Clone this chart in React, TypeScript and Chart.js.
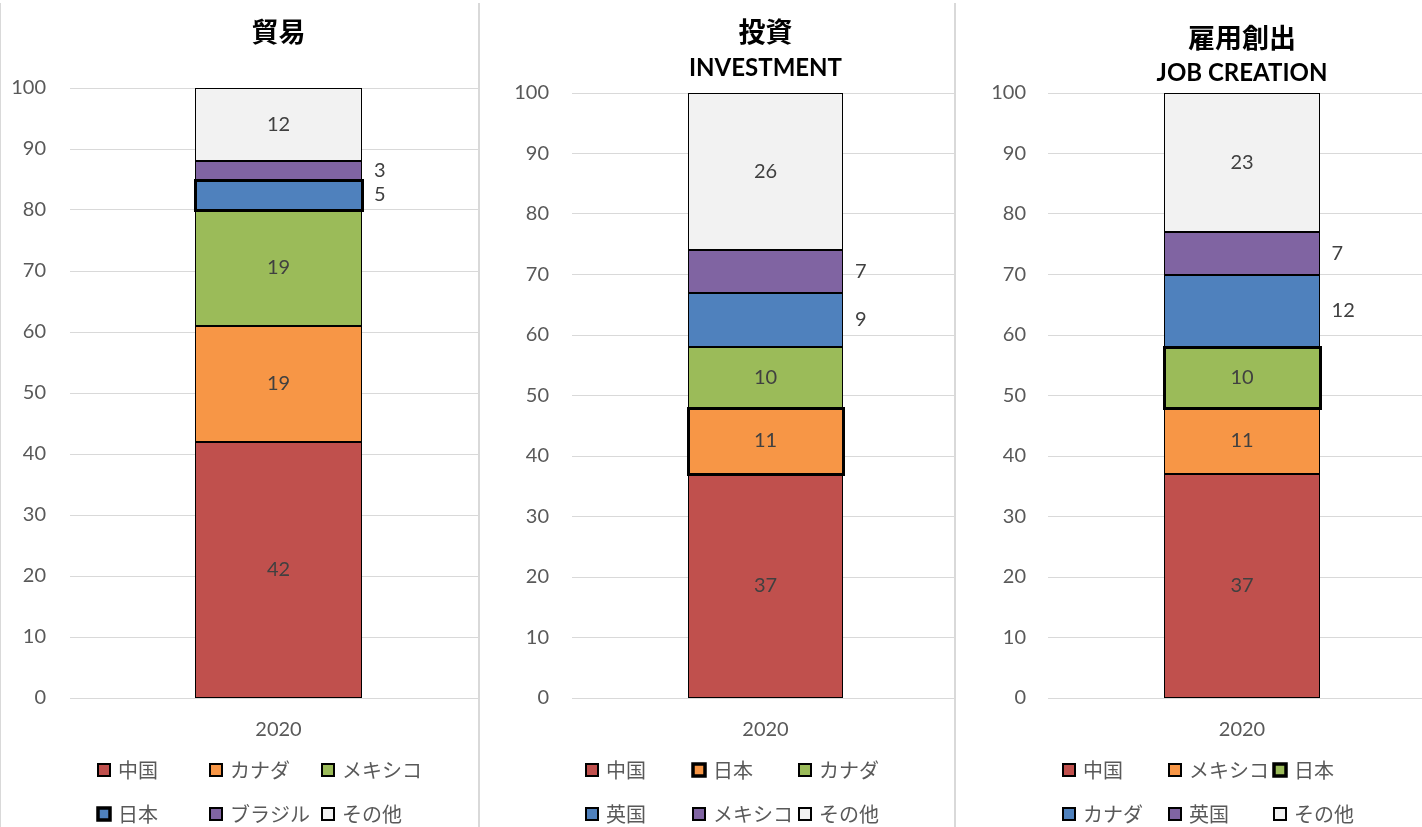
import React, { useEffect, useRef } from "react";
import { Chart, registerables } from "chart.js";

Chart.register(...registerables);

// ---------- data ----------
const CATEGORIES = ["2020"];

const TRADE_LABELS = ["中国", "カナダ", "メキシコ", "日本", "ブラジル", "その他"];
const TRADE_VALUES = [42, 19, 19, 5, 3, 12];

const INVEST_LABELS = ["中国", "日本", "カナダ", "英国", "メキシコ", "その他"];
const INVEST_VALUES = [37, 11, 10, 9, 7, 26];

const JOB_LABELS = ["中国", "メキシコ", "日本", "カナダ", "英国", "その他"];
const JOB_VALUES = [37, 11, 10, 12, 7, 23];

const Y_MIN = 0;
const Y_MAX = 100;
const Y_STEP = 10;

// ---------- style ----------
const SERIES_COLORS = ["#C0504D", "#F79646", "#9BBB59", "#4F81BD", "#8064A2", "#F2F2F2"];
const HIGHLIGHT = "日本";
const OUTSIDE_INDEXES = [3, 4];
const H = 827;
const CJK = '"Noto Sans CJK JP", "Noto Sans", sans-serif';
const LATIN = 'Lato, "Noto Sans", sans-serif';
const GRAY = "#595959";
const LABEL_GRAY = "#404040";

type PanelCfg = {
  title: string;
  subtitle?: string;
  labels: string[];
  values: number[];
  left: number;
  width: number;
  canvasWidth: number;
  axisWidth: number;
  tickPad: number;
  top: number;
  bottom: number;
  titleY: number;
  subY?: number;
  legendX: number;
  legendDx: number;
};

const PANELS: PanelCfg[] = [
  {
    title: "貿易",
    labels: TRADE_LABELS,
    values: TRADE_VALUES,
    left: 0,
    width: 479,
    canvasWidth: 487,
    axisWidth: 70,
    tickPad: 24,
    top: 88,
    bottom: 698,
    titleY: 32,
    legendX: 97,
    legendDx: 112,
  },
  {
    title: "投資",
    subtitle: "INVESTMENT",
    labels: INVEST_LABELS,
    values: INVEST_VALUES,
    left: 479,
    width: 476,
    canvasWidth: 480,
    axisWidth: 93,
    tickPad: 23,
    top: 93,
    bottom: 698,
    titleY: 32,
    subY: 68,
    legendX: 106,
    legendDx: 106.5,
  },
  {
    title: "雇用創出",
    subtitle: "JOB CREATION",
    labels: JOB_LABELS,
    values: JOB_VALUES,
    left: 955,
    width: 467,
    canvasWidth: 481,
    axisWidth: 93,
    tickPad: 22,
    top: 93,
    bottom: 698,
    titleY: 38,
    subY: 73,
    legendX: 107,
    legendDx: 105.5,
  },
];

function makePlugin(cfg: PanelCfg) {
  return {
    id: "panelDecor",
    afterDatasetsDraw(chart: any) {
      const ctx: CanvasRenderingContext2D = chart.ctx;
      const rects: { l: number; r: number; t: number; b: number; hl: boolean; i: number; v: number; cx: number; cy: number }[] = [];
      chart.data.datasets.forEach((ds: any, i: number) => {
        const meta = chart.getDatasetMeta(i);
        meta.data.forEach((el: any, j: number) => {
          const p = el.getProps(["x", "y", "base", "width"], true);
          rects.push({
            l: p.x - p.width / 2,
            r: p.x + p.width / 2,
            t: Math.min(p.y, p.base),
            b: Math.max(p.y, p.base),
            hl: cfg.labels[i] === HIGHLIGHT,
            i,
            v: ds.data[j],
            cx: p.x,
            cy: (p.y + p.base) / 2,
          });
        });
      });
      ctx.save();
      ctx.strokeStyle = "#000";
      ctx.lineWidth = 1;
      rects.filter((r) => !r.hl).forEach((r) => {
        const l = Math.round(r.l) + 0.5;
        const rr = Math.round(r.r) - 0.5;
        const t = Math.round(r.t) + 0.5;
        const b = Math.round(r.b) - 0.5;
        ctx.strokeRect(l, t, rr - l, b - t);
      });
      ctx.lineWidth = 3;
      rects.filter((r) => r.hl).forEach((r) => {
        const l = Math.round(r.l) + 0.5;
        const rr = Math.round(r.r) + 0.5;
        const t = Math.round(r.t) + 0.5;
        const b = Math.round(r.b) + 0.5;
        ctx.strokeRect(l, t, rr - l, b - t);
      });
      ctx.font = `20px ${LATIN}`;
      ctx.fillStyle = LABEL_GRAY;
      ctx.textBaseline = "middle";
      rects.forEach((r) => {
        if (OUTSIDE_INDEXES.includes(r.i)) {
          ctx.textAlign = "left";
          ctx.fillText(String(r.v), r.r + 12, r.cy);
        } else {
          ctx.textAlign = "center";
          ctx.fillText(String(r.v), r.cx, r.cy);
        }
      });
      ctx.restore();
    },
    afterDraw(chart: any) {
      const ctx: CanvasRenderingContext2D = chart.ctx;
      const area = chart.chartArea;
      const cx = (area.left + area.right) / 2;
      ctx.save();
      ctx.fillStyle = "#000";
      ctx.textAlign = "center";
      ctx.textBaseline = "middle";
      ctx.font = `bold 27px ${CJK}`;
      ctx.fillText(cfg.title, cx, cfg.titleY);
      if (cfg.subtitle && cfg.subY) {
        ctx.font = `bold 24px ${LATIN}`;
        ctx.fillText(cfg.subtitle, cx, cfg.subY);
      }
      const rows = [770, 814];
      ctx.font = `20px ${CJK}`;
      ctx.textAlign = "left";
      cfg.labels.forEach((lab, i) => {
        const col = i % 3;
        const row = Math.floor(i / 3);
        const x = Math.round(cfg.legendX + col * cfg.legendDx);
        const y = rows[row];
        const hl = lab === HIGHLIGHT;
        ctx.fillStyle = SERIES_COLORS[i];
        ctx.fillRect(x + 1, y - 6, 12, 12);
        ctx.strokeStyle = "#000";
        ctx.lineWidth = hl ? 3.5 : 2;
        ctx.strokeRect(x + 1, y - 6, 12, 12);
        ctx.fillStyle = GRAY;
        ctx.fillText(lab, x + 21, y);
      });
      ctx.restore();
    },
  };
}

function Panel({ cfg }: { cfg: PanelCfg }) {
  const ref = useRef<HTMLCanvasElement | null>(null);
  useEffect(() => {
    if (!ref.current) return;
    const chart = new Chart(ref.current, {
      type: "bar",
      data: {
        labels: CATEGORIES,
        datasets: cfg.labels.map((lab, i) => ({
          label: lab,
          data: [cfg.values[i]],
          backgroundColor: SERIES_COLORS[i],
          borderWidth: 0,
          barPercentage: 0.4,
          categoryPercentage: 1,
        })),
      },
      options: {
        responsive: false,
        animation: false,
        devicePixelRatio: 1,
        layout: { padding: { top: cfg.top, left: 0, right: 0, bottom: 0 } },
        plugins: {
          legend: { display: false },
          title: { display: false },
          tooltip: { enabled: false },
        },
        scales: {
          x: {
            stacked: true,
            grid: { display: false },
            border: { display: false },
            ticks: { color: GRAY, font: { family: LATIN, size: 20 }, padding: 12 },
            afterFit: (s: any) => {
              s.height = H - cfg.bottom;
            },
          },
          y: {
            stacked: true,
            min: Y_MIN,
            max: Y_MAX,
            grid: { color: "#D9D9D9", lineWidth: 1, drawTicks: false },
            border: { display: false },
            ticks: {
              stepSize: Y_STEP,
              color: GRAY,
              font: { family: LATIN, size: 20 },
              padding: cfg.tickPad,
            },
            afterFit: (s: any) => {
              s.width = cfg.axisWidth;
            },
          },
        },
      } as any,
      plugins: [makePlugin(cfg)],
    });
    return () => chart.destroy();
  }, [cfg]);
  return (
    <div
      style={{
        position: "absolute",
        left: cfg.left,
        top: 0,
        width: cfg.width,
        height: H,
        overflow: "hidden",
      }}
    >
      <canvas ref={ref} width={cfg.canvasWidth} height={H} style={{ display: "block" }} />
    </div>
  );
}

export default function App() {
  return (
    <div
      style={{
        position: "fixed",
        left: 0,
        top: 0,
        width: 1422,
        height: H,
        background: "#fff",
        overflow: "hidden",
      }}
    >
      {PANELS.map((p, i) => (
        <Panel key={i} cfg={p} />
      ))}
      <div style={{ position: "absolute", left: 0, top: 3, width: 1, height: H, background: "#D9D9D9" }} />
      <div style={{ position: "absolute", left: 478, top: 3, width: 2, height: H, background: "#D9D9D9" }} />
      <div style={{ position: "absolute", left: 954, top: 3, width: 2, height: H, background: "#D9D9D9" }} />
    </div>
  );
}
